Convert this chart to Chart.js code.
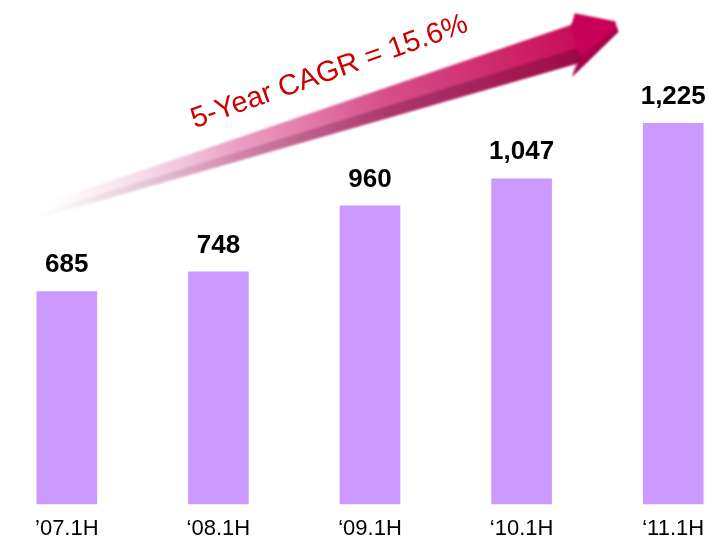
<!DOCTYPE html>
<html>
<head>
<meta charset="utf-8">
<script src="https://cdn.jsdelivr.net/npm/chart.js@4"></script>
<style>
  html, body { margin: 0; padding: 0; background: #ffffff; overflow: hidden; width: 708px; height: 542px; }
  #wrap { position: absolute; left: -9px; top: 0; width: 758px; height: 553px; }
</style>
</head>
<body>
<div id="wrap"><canvas id="c"></canvas></div>
<script>
const categories = ['\u201907.1H', '\u201808.1H', '\u201809.1H', '\u201810.1H', '\u201811.1H'];
const values = [685, 748, 960, 1047, 1225];
const cagrText = '5-Year CAGR = 15.6%';

const valueLabels = {
  id: 'valueLabels',
  afterDatasetsDraw(chart) {
    const ctx = chart.ctx;
    const meta = chart.getDatasetMeta(0);
    ctx.save();
    ctx.fillStyle = '#000000';
    ctx.font = 'bold 26px "Liberation Sans", Arial, sans-serif';
    ctx.textAlign = 'center';
    ctx.textBaseline = 'alphabetic';
    meta.data.forEach((bar, i) => {
      ctx.fillText(values[i].toLocaleString('en-US'), bar.x, bar.y - 19);
    });
    ctx.restore();
  }
};

const cagrArrow = {
  id: 'cagrArrow',
  beforeDatasetsDraw(chart) {
    const ctx = chart.ctx;
    const meta = chart.getDatasetMeta(0);
    const b0 = meta.data[0], b4 = meta.data[4];
    const tail = { x: b0.x - 36, y: b0.y - 78 };
    const tip = { x: b4.x - 56, y: b4.y - 95 };
    const dx = tip.x - tail.x, dy = tip.y - tail.y;
    const L = Math.hypot(dx, dy);
    const ang = Math.atan2(dy, dx);
    ctx.save();
    ctx.translate(tip.x, tip.y);
    ctx.rotate(ang);
    const headBack = -42;
    const grad = ctx.createLinearGradient(-L, 0, 0, 0);
    grad.addColorStop(0.0, 'rgba(255,255,255,0)');
    grad.addColorStop(0.12, 'rgba(240,200,220,0.35)');
    grad.addColorStop(0.35, 'rgba(232,150,190,0.9)');
    grad.addColorStop(0.6, 'rgba(215,80,140,1)');
    grad.addColorStop(0.85, 'rgba(205,30,100,1)');
    grad.addColorStop(1.0, 'rgba(195,0,80,1)');
    ctx.filter = 'blur(1px)';
    ctx.beginPath();
    ctx.moveTo(-L, -5);
    ctx.lineTo(headBack + 4, -17);
    ctx.lineTo(headBack + 4, 22);
    ctx.lineTo(-L, 7);
    ctx.closePath();
    ctx.fillStyle = grad;
    ctx.fill();
    const shade = ctx.createLinearGradient(-L, 0, 0, 0);
    shade.addColorStop(0.0, 'rgba(80,10,45,0)');
    shade.addColorStop(0.3, 'rgba(80,10,45,0.15)');
    shade.addColorStop(0.6, 'rgba(80,10,45,0.33)');
    shade.addColorStop(1.0, 'rgba(80,0,40,0.35)');
    ctx.beginPath();
    ctx.moveTo(-L, 2);
    ctx.lineTo(headBack + 4, 7);
    ctx.lineTo(headBack + 4, 22);
    ctx.lineTo(-L, 7);
    ctx.closePath();
    ctx.fillStyle = shade;
    ctx.fill();
    ctx.beginPath();
    ctx.moveTo(headBack + 6, -27);
    ctx.lineTo(0, -7);
    ctx.lineTo(0, 4);
    ctx.lineTo(headBack - 16, 33);
    ctx.lineTo(headBack - 2, 17);
    ctx.lineTo(headBack - 2, -15);
    ctx.closePath();
    ctx.fillStyle = '#C8005A';
    ctx.fill();
    ctx.beginPath();
    ctx.moveTo(0, 0);
    ctx.lineTo(0, 4);
    ctx.lineTo(headBack - 16, 33);
    ctx.lineTo(headBack - 6, 17);
    ctx.closePath();
    ctx.fillStyle = 'rgba(110,0,45,0.35)';
    ctx.fill();
    ctx.restore();

    ctx.save();
    ctx.translate(b0.x + 128, b0.y - 163);
    ctx.rotate(-19.5 * Math.PI / 180);
    ctx.font = '29px "Liberation Sans", Arial, sans-serif';
    ctx.fillStyle = '#CC0000';
    ctx.textBaseline = 'alphabetic';
    ctx.textAlign = 'left';
    ctx.fillText(cagrText, 0, 0);
    ctx.restore();
  }
};

new Chart(document.getElementById('c'), {
  type: 'bar',
  data: {
    labels: categories,
    datasets: [{
      data: values,
      backgroundColor: '#CC99FF',
      borderWidth: 0,
      barPercentage: 0.8,
      categoryPercentage: 0.5
    }]
  },
  options: {
    responsive: true,
    maintainAspectRatio: false,
    animation: false,
    layout: { padding: { top: 0, bottom: 0, left: 0, right: 0 } },
    plugins: { legend: { display: false }, tooltip: { enabled: false } },
    scales: {
      x: {
        grid: { display: false, drawTicks: false },
        border: { display: false },
        ticks: {
          color: '#000000',
          padding: 11,
          font: { family: '"Liberation Sans", Arial, sans-serif', size: 22 }
        }
      },
      y: {
        display: false,
        min: 0,
        max: 1620
      }
    }
  },
  plugins: [cagrArrow, valueLabels]
});
</script>
</body>
</html>
